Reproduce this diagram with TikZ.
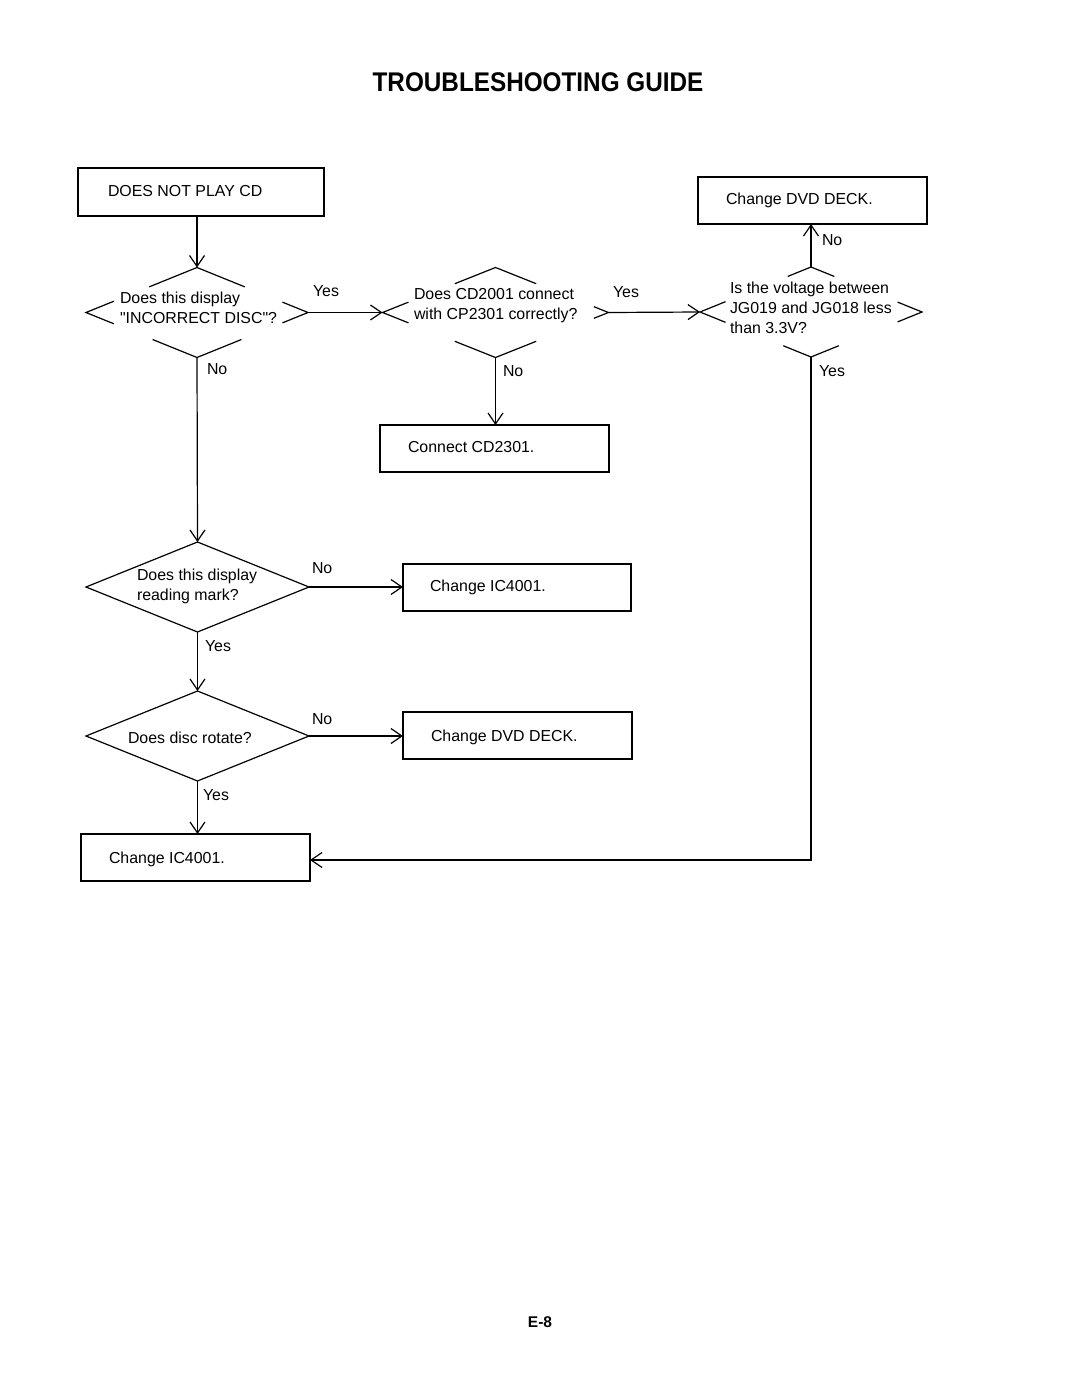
\documentclass[tikz,border=0pt]{standalone}
\usepackage{fontspec}
\setmainfont{Liberation Sans}[Ligatures=TeXOff]
\usetikzlibrary{shapes.geometric,arrows.meta,calc}
\newcommand\partdia[5]{%
  \draw[conn] ($(#1.north)!#2!(#1.west)$) -- (#1.north) -- ($(#1.north)!#2!(#1.east)$);
  \draw[conn] ($(#1.east)!#3!(#1.north)$) -- (#1.east) -- ($(#1.east)!#3!(#1.south)$);
  \draw[conn] ($(#1.south)!#4!(#1.west)$) -- (#1.south) -- ($(#1.south)!#4!(#1.east)$);
  \draw[conn] ($(#1.west)!#5!(#1.north)$) -- (#1.west) -- ($(#1.west)!#5!(#1.south)$);
}
\begin{document}
\begin{tikzpicture}[x=1pt,y=-1pt,
  every node/.style={inner sep=0pt,outer sep=0pt},
  txt/.style={anchor=base west,font=\fontsize{15.9}{19}\selectfont},
  box/.style={draw,line width=1.2pt,minimum width=229pt,minimum height=47pt},
  dia/.style={shape=diamond,minimum width=222pt,minimum height=90pt},
  conn/.style={line width=1.2pt},
  arr/.style={conn,-{Straight Barb[length=11pt,width=15pt]}}]
\useasboundingbox[fill=white] (0,0) rectangle (1080,1397);

\node[font=\fontsize{27}{32}\selectfont\bfseries,anchor=base,xscale=0.9] (title) at (538,92) {TROUBLESHOOTING GUIDE};

% boxes
\node[box,line width=2.4pt,minimum width=246pt,minimum height=48pt] (b1) at (201,192) {};
\node[box] (b2) at (812.5,200.5) {};
\node[box] (b3) at (494.5,448.5) {};
\node[box,minimum width=228pt] (b4) at (517,587.5) {};
\node[box] (b5) at (517.5,735.5) {};
\node[box] (b6) at (195.5,857.5) {};

\node[txt] (b1t) at (108,196) {DOES NOT PLAY CD};
\node[txt] (b2t) at (726,204) {Change DVD DECK.};
\node[txt] (b3t) at (408,452) {Connect CD2301.};
\node[txt] (b4t) at (430,591) {Change IC4001.};
\node[txt] (b5t) at (431,741) {Change DVD DECK.};
\node[txt] (b6t) at (109,863) {Change IC4001.};

% diamonds
\node[dia] (d1) at (197,312.5) {};
\node[dia,minimum width=226pt] (d2) at (495.5,312.5) {};
\node[dia] (d3) at (811,312) {};
\node[dia,draw,line width=1.2pt,minimum width=223pt] (d4) at (197.5,587) {};
\node[dia,draw,line width=1.2pt,minimum width=223pt] (d5) at (197.5,736) {};

\partdia{d1}{0.43}{0.23}{0.40}{0.25}
\partdia{d2}{0.36}{0.13}{0.36}{0.23}
\partdia{d3}{0.21}{0.22}{0.25}{0.23}

\node[txt] (d1t1) at (120,303) {Does this display};
\node[txt] (d1t2) at (120,323) {"INCORRECT DISC"?};
\node[txt] (d2t1) at (414,299) {Does CD2001 connect};
\node[txt] (d2t2) at (414,319.5) {with CP2301 correctly?};
\node[txt] (d3t1) at (730,293) {Is the voltage between};
\node[txt] (d3t2) at (730,313) {JG019 and JG018 less};
\node[txt] (d3t3) at (730,333) {than 3.3V?};
\node[txt] (d4t1) at (137,580) {Does this display};
\node[txt] (d4t2) at (137,600) {reading mark?};
\node[txt] (d5t1) at (128,743) {Does disc rotate?};

% connectors
\draw[arr] (d1.north |- b1.south) -- (d1.north);
\draw[arr] (d1.east) -- (d2.west);
\draw[arr] (d2.east) -- (d3.west);
\draw[arr] (d3.north) -- (d3.north |- b2.south);
\draw[arr] (d1.south) -- (d4.north);
\draw[arr] (d2.south) -- (d2.south |- b3.north);
\coordinate (turn) at (811,860);
\draw[arr] (d3.south) -- (turn) -- (turn -| b6.east);
\draw[arr] (d4.east) -- (d4.east -| b4.west);
\draw[arr] (d4.south) -- (d5.north);
\draw[arr] (d5.east) -- (d5.east -| b5.west);
\draw[arr] (d5.south) -- (d5.south |- b6.north);

% labels
\node[txt] (l1) at (313,296) {Yes};
\node[txt] (l2) at (613,297.5) {Yes};
\node[txt] (l3) at (822,245) {No};
\node[txt] (l4) at (207,374) {No};
\node[txt] (l5) at (503,376) {No};
\node[txt] (l6) at (819,376) {Yes};
\node[txt] (l7) at (312,573) {No};
\node[txt] (l8) at (205,651.5) {Yes};
\node[txt] (l9) at (312,724) {No};
\node[txt] (l10) at (203,800) {Yes};

\node[font=\fontsize{15.5}{19}\selectfont\bfseries,anchor=base] (page) at (540,1327) {E-8};
\end{tikzpicture}
\end{document}
